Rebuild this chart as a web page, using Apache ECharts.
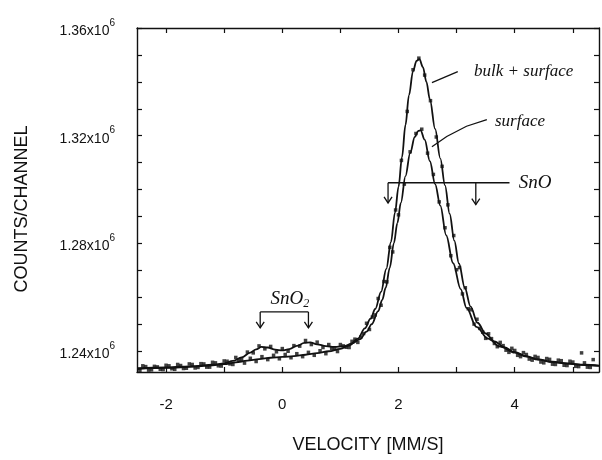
<!DOCTYPE html>
<html><head><meta charset="utf-8">
<script src="https://cdn.jsdelivr.net/npm/echarts@6/dist/echarts.min.js"></script>
<style>html,body{margin:0;padding:0;background:#fff}#c{width:602px;height:460px}</style>
</head><body><div id="c"></div>
<script>
// ---- data (counts per channel in units of 1000) ----
const xLabelValues = [-2, 0, 2, 4];
const xTickValues = [-2, -1, 0, 1, 2, 3, 4, 5];
const yLabelValues = [1240, 1280, 1320, 1360];
const yTickValues = [1240, 1250, 1260, 1270, 1280, 1290, 1300, 1310, 1320, 1330, 1340, 1350, 1360];

// fitted curve "bulk + surface"
const bulkFitV = [-2.5,-2.0,-1.5,-1.2,-1.0,-0.8,-0.6,-0.4,-0.2,0.0,0.2,0.4,0.6,0.8,1.0,1.15,1.3,1.42,1.52,1.6,1.7,1.79,1.87,1.94,2.0,2.06,2.12,2.18,2.25,2.31,2.36,2.42,2.48,2.54,2.63,2.72,2.8,2.88,2.96,3.04,3.14,3.24,3.36,3.5,3.65,3.82,4.0,4.2,4.4,4.65,4.9,5.2,5.45];
const bulkFitY = [1233.3,1233.7,1234.2,1234.7,1235.1,1235.8,1236.4,1237.0,1237.5,1237.8,1238.1,1238.6,1239.2,1239.9,1240.8,1242.0,1244.6,1248.4,1252.0,1255.6,1262.0,1270.5,1280.5,1291.5,1301.0,1312.0,1324.0,1335.0,1344.0,1347.8,1348.4,1345.5,1340.0,1333.5,1322.5,1311.5,1301.5,1291.0,1281.0,1272.5,1263.5,1256.5,1250.5,1246.5,1243.6,1241.4,1239.6,1238.1,1236.9,1236.0,1235.4,1234.9,1234.6];

// fitted curve "surface"
const surfFitV = [-2.5,-2.0,-1.5,-1.2,-1.0,-0.85,-0.7,-0.55,-0.45,-0.36,-0.25,-0.12,0.0,0.12,0.25,0.38,0.48,0.6,0.75,0.9,1.05,1.2,1.34,1.45,1.54,1.65,1.72,1.78,1.85,1.92,1.98,2.04,2.12,2.2,2.28,2.34,2.38,2.45,2.54,2.63,2.72,2.82,2.94,3.07,3.17,3.34,3.54,3.75,4.0,4.2,4.4,4.65,4.9,5.2,5.45];
const surfFitY = [1233.6,1233.9,1234.4,1234.9,1235.4,1236.3,1237.6,1239.4,1240.6,1241.5,1241.3,1240.5,1240.2,1240.7,1241.9,1243.0,1243.2,1242.5,1241.8,1241.5,1241.7,1242.8,1244.4,1247.2,1250.0,1254.8,1259.0,1263.5,1271.0,1280.0,1287.5,1295.0,1305.0,1313.5,1319.5,1321.8,1322.0,1318.5,1310.5,1302.0,1294.0,1283.0,1272.6,1263.0,1256.0,1249.0,1244.6,1241.6,1239.4,1237.9,1236.8,1235.9,1235.3,1234.8,1234.5];

// measured points "bulk + surface"
const bulkPtsV = [-2.45,-2.35,-2.25,-2.15,-2.05,-1.95,-1.85,-1.75,-1.65,-1.55,-1.45,-1.35,-1.25,-1.15,-1.05,-0.95,-0.85,-0.75,-0.65,-0.55,-0.45,-0.35,-0.25,-0.15,-0.05,0.05,0.15,0.25,0.35,0.45,0.55,0.65,0.75,0.85,0.95,1.05,1.15,1.25,1.35,1.45,1.55,1.65,1.75,1.85,1.95,2.05,2.15,2.25,2.35,2.45,2.55,2.65,2.75,2.85,2.95,3.05,3.15,3.25,3.35,3.45,3.55,3.65,3.75,3.85,3.95,4.05,4.15,4.25,4.35,4.45,4.55,4.65,4.75,4.85,4.95,5.05,5.15,5.25,5.35];
const bulkPtsY = [1232.8,1234.2,1233.0,1234.1,1233.1,1234.5,1233.2,1234.6,1233.6,1235.0,1233.9,1235.2,1234.0,1235.6,1234.4,1236.2,1235.0,1236.7,1235.5,1237.3,1236.1,1237.9,1236.8,1238.4,1237.1,1238.7,1237.5,1239.0,1237.9,1239.5,1238.4,1240.1,1239.0,1240.9,1239.8,1241.9,1241.3,1244.4,1245.2,1250.3,1252.6,1259.5,1265.8,1278.5,1292.4,1310.8,1329.0,1344.5,1348.8,1342.5,1333.0,1319.5,1308.6,1294.3,1282.9,1271.0,1263.5,1255.3,1251.8,1247.0,1246.4,1242.8,1243.2,1240.3,1241.0,1238.4,1239.4,1237.0,1238.0,1235.9,1237.2,1235.1,1236.6,1234.7,1236.2,1234.3,1239.3,1234.0,1236.8];

// measured points "surface"
const surfPtsV = [-2.4,-2.3,-2.2,-2.1,-2.0,-1.9,-1.8,-1.7,-1.6,-1.5,-1.4,-1.3,-1.2,-1.1,-1.0,-0.9,-0.8,-0.7,-0.6,-0.5,-0.4,-0.3,-0.2,-0.1,0.0,0.1,0.2,0.3,0.4,0.5,0.6,0.7,0.8,0.9,1.0,1.1,1.2,1.3,1.4,1.5,1.6,1.7,1.8,1.9,2.0,2.1,2.2,2.3,2.4,2.5,2.6,2.7,2.8,2.9,3.0,3.1,3.2,3.3,3.4,3.5,3.6,3.7,3.8,3.9,4.0,4.1,4.2,4.3,4.4,4.5,4.6,4.7,4.8,4.9,5.0,5.1,5.2,5.3];
const surfPtsY = [1234.5,1232.9,1234.3,1233.2,1234.7,1233.4,1235.0,1233.5,1235.2,1233.7,1235.3,1234.0,1235.8,1234.5,1236.3,1235.2,1237.6,1236.9,1239.6,1239.3,1241.9,1240.8,1241.7,1239.7,1240.9,1239.9,1242.0,1241.8,1243.9,1242.4,1243.3,1241.3,1242.4,1240.8,1242.4,1241.4,1243.6,1243.2,1246.5,1248.0,1253.4,1257.0,1265.7,1276.8,1290.6,1302.0,1314.0,1320.8,1322.4,1313.5,1305.6,1295.4,1285.8,1275.4,1270.2,1261.2,1255.7,1250.0,1248.4,1244.7,1244.6,1241.6,1242.0,1239.5,1240.2,1237.9,1238.7,1236.6,1237.6,1235.6,1236.9,1235.0,1236.4,1234.6,1235.9,1234.2,1235.6,1233.9];

// ---- annotation anchors (data coordinates) ----
const bulkLeader = [[2.575, 1339.7], [3.02, 1343.8]];
const bulkLabelAt = [3.30, 1343.8];
const surfLeader = [[2.575, 1315.9], [2.83, 1319.7], [3.17, 1323.5], [3.52, 1326.0]];
const surfLabelAt = [3.66, 1325.2];
const snoBar = [[1.82, 1302.5], [3.91, 1302.5]];
const snoArrows = [[1.82, 1302.5, 1295.0], [3.33, 1302.5, 1294.4]];
const snoLabelAt = [4.07, 1302.5];
const sno2Bar = [[-0.38, 1254.5], [0.45, 1254.5]];
const sno2Arrows = [[-0.38, 1254.5, 1248.6], [0.45, 1254.5, 1248.6]];
const sno2LabelAt = [0.13, 1259.5];

const pair = (vs, ys) => vs.map((v, i) => [v, ys[i]]);
const INK = '#111';
const FONT = 'Liberation Sans, Arial, sans-serif';
const HAND = 'Liberation Serif, DejaVu Serif, serif';

const chart = echarts.init(document.getElementById('c'), null, {renderer: 'canvas'});

const xBase = {
  type: 'value', min: -2.5, max: 5.45,
  axisLine: {show: true, onZero: false, lineStyle: {color: INK, width: 1.4}},
  axisTick: {show: true, inside: true, length: 5, customValues: xTickValues, lineStyle: {color: INK, width: 1.2}},
  splitLine: {show: false}
};
const yBase = {
  type: 'value', min: 1232.2, max: 1360,
  axisLine: {show: true, onZero: false, lineStyle: {color: INK, width: 1.4}},
  axisTick: {show: true, inside: true, length: 5, customValues: yTickValues, lineStyle: {color: INK, width: 1.2}},
  splitLine: {show: false}
};

const option = {
  animation: false,
  backgroundColor: '#fff',
  grid: {left: 137, right: 3, top: 28, bottom: 88, containLabel: false},
  xAxis: [
    Object.assign({}, xBase, {
      position: 'bottom',
      name: 'VELOCITY [MM/S]', nameLocation: 'middle', nameGap: 64,
      nameTextStyle: {fontFamily: FONT, fontSize: 18, color: INK},
      axisLabel: {show: true, customValues: xLabelValues, margin: 25, fontFamily: FONT, fontSize: 15, color: INK}
    }),
    Object.assign({}, xBase, {position: 'top', axisLabel: {show: false}})
  ],
  yAxis: [
    Object.assign({}, yBase, {
      position: 'left',
      name: 'COUNTS/CHANNEL', nameLocation: 'middle', nameGap: 106, nameRotate: 90,
      nameTextStyle: {fontFamily: FONT, fontSize: 18, color: INK, padding: [0, 18, 0, 0]},
      axisLabel: {
        show: true, customValues: yLabelValues, margin: 22, color: INK,
        formatter: v => '{a|' + (v / 1000).toFixed(2) + 'x10}{b|6}',
        rich: {
          a: {fontFamily: FONT, fontSize: 14, color: INK, lineHeight: 20, verticalAlign: 'bottom'},
          b: {fontFamily: FONT, fontSize: 10, color: INK, lineHeight: 20, verticalAlign: 'top'}
        }
      }
    }),
    Object.assign({}, yBase, {position: 'right', axisLabel: {show: false}})
  ],
  series: [
    {type: 'line', name: 'bulk + surface fit', data: pair(bulkFitV, bulkFitY), showSymbol: false, symbol: 'none',
     smooth: 0.35, smoothMonotone: 'x', lineStyle: {color: INK, width: 1.8}, silent: true},
    {type: 'line', name: 'surface fit', data: pair(surfFitV, surfFitY), showSymbol: false, symbol: 'none',
     smooth: 0.35, smoothMonotone: 'x', lineStyle: {color: INK, width: 1.8}, silent: true},
    {type: 'scatter', name: 'bulk + surface', data: pair(bulkPtsV, bulkPtsY), symbol: 'rect', symbolSize: 3.5,
     itemStyle: {color: INK}, silent: true},
    {type: 'scatter', name: 'surface', data: pair(surfPtsV, surfPtsY), symbol: 'rect', symbolSize: 3.5,
     itemStyle: {color: INK}, silent: true}
  ]
};
chart.setOption(option);

// ---- hand-written annotations, placed through the axis scales ----
const P = (v, y) => chart.convertToPixel({gridIndex: 0}, [v, y]);
const stroke = {stroke: INK, lineWidth: 1.3, fill: null};
const g = [];
function poly(pts) { g.push({type: 'polyline', shape: {points: pts.map(p => P(p[0], p[1]))}, style: stroke, silent: true}); }
function arrow(a) {
  const top = P(a[0], a[1]), bot = P(a[0], a[2]);
  g.push({type: 'polyline', shape: {points: [top, bot]}, style: stroke, silent: true});
  g.push({type: 'polyline', shape: {points: [[bot[0] - 4, bot[1] - 6], bot, [bot[0] + 4, bot[1] - 6]]}, style: stroke, silent: true});
}
function label(at, text, size) {
  const p = P(at[0], at[1]);
  g.push({type: 'text', x: p[0], y: p[1], silent: true,
    style: {text: text, fontFamily: HAND, fontStyle: 'italic', fontSize: size, fill: INK, verticalAlign: 'middle', align: 'left'}});
}
poly(bulkLeader);
label(bulkLabelAt, 'bulk + surface', 17);
poly(surfLeader);
label(surfLabelAt, 'surface', 17);
poly(snoBar);
snoArrows.forEach(arrow);
label(snoLabelAt, 'SnO', 19);
poly(sno2Bar);
sno2Arrows.forEach(arrow);
const s2 = P(sno2LabelAt[0], sno2LabelAt[1]);
g.push({type: 'text', x: s2[0], y: s2[1], silent: true,
  style: {text: '{m|SnO}{s|2}', align: 'center', verticalAlign: 'middle',
    rich: {m: {fontFamily: HAND, fontStyle: 'italic', fontSize: 19, fill: INK, lineHeight: 22, verticalAlign: 'middle'},
           s: {fontFamily: HAND, fontStyle: 'italic', fontSize: 12, fill: INK, lineHeight: 22, verticalAlign: 'bottom'}}}});
chart.setOption({graphic: g});
</script>
</body></html>
